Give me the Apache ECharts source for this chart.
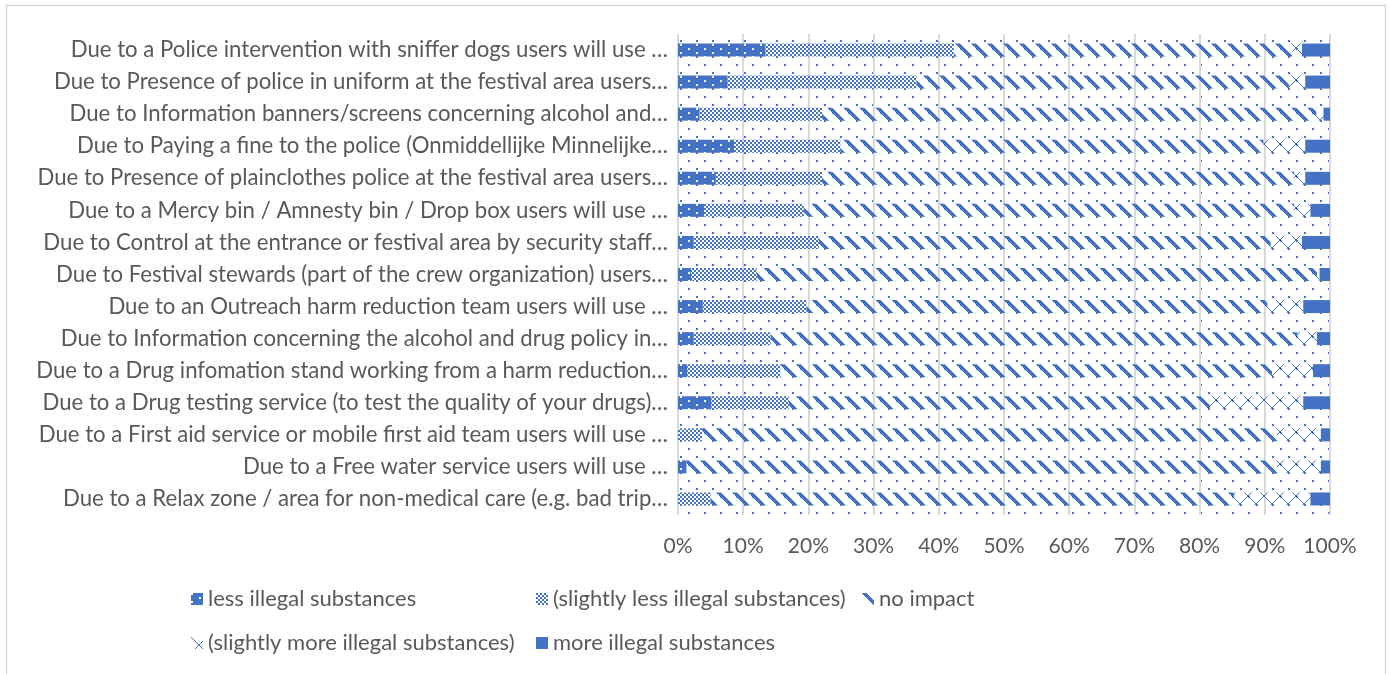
<!DOCTYPE html>
<html>
<head>
<meta charset="utf-8">
<script src="https://cdn.jsdelivr.net/npm/echarts@6/dist/echarts.min.js"></script>
<style>
  html, body { margin: 0; padding: 0; background: #ffffff; }
  #chart { width: 1390px; height: 674px; }
</style>
</head>
<body>
<div id="chart"></div>
<script>
// Survey items, listed top to bottom
const categories = [
  'Due to a Police intervention with sniffer dogs users will use …',
  'Due to Presence of police in uniform at the festival area users…',
  'Due to Information banners/screens concerning alcohol and…',
  'Due to Paying a fine to the police (Onmiddellijke Minnelijke…',
  'Due to Presence of plainclothes police at the festival area users…',
  'Due to a Mercy bin / Amnesty bin / Drop box users will use …',
  'Due to Control at the entrance or festival area by security staff…',
  'Due to Festival stewards (part of the crew organization) users…',
  'Due to an Outreach harm reduction team users will use …',
  'Due to Information concerning the alcohol and drug policy in…',
  'Due to a Drug infomation stand working from a harm reduction…',
  'Due to a Drug testing service (to test the quality of your drugs)…',
  'Due to a First aid service or mobile first aid team users will use …',
  'Due to a Free water service users will use …',
  'Due to a Relax zone / area for non-medical care (e.g. bad trip…'
];

// Share of answers (%) per item
const lessIllegal       = [13.4, 7.6, 3.3, 8.6, 5.8, 4.0, 2.4, 2.0, 3.8, 2.4, 1.4, 5.1, 0, 1.3, 0];
const slightlyLess      = [28.9, 29.0, 18.8, 16.3, 16.3, 15.3, 19.2, 10.1, 15.9, 11.8, 14.3, 11.9, 3.7, 0, 5.0];
const noImpact          = [51.9, 57.1, 75.8, 64.9, 72.4, 75.2, 69.3, 85.9, 70.7, 80.8, 75.4, 64.6, 88.2, 90.6, 80.3];
const slightlyMore      = [1.5, 2.5, 1.1, 6.4, 1.7, 2.5, 4.8, 0.4, 5.5, 3.0, 6.3, 14.3, 6.7, 6.7, 11.7];
const moreIllegal       = [4.3, 3.8, 1.0, 3.8, 3.8, 3.0, 4.3, 1.6, 4.1, 2.0, 2.6, 4.1, 1.4, 1.4, 3.0];

const seriesNames = [
  'less illegal substances',
  '(slightly less illegal substances)',
  'no impact',
  '(slightly more illegal substances)',
  'more illegal substances'
];

const BLUE = '#4472C4';
const TEXT = '#595959';
const FONT = 'Lato, "Open Sans", sans-serif';

// Small repeating canvas tiles used as fill patterns
function tile(w, h, paint) {
  const c = document.createElement('canvas');
  c.width = w; c.height = h;
  const ctx = c.getContext('2d');
  paint(ctx);
  return { image: c, repeat: 'repeat' };
}

const patLess = tile(16, 8, ctx => {
  ctx.fillStyle = BLUE; ctx.fillRect(0, 0, 16, 8);
  ctx.fillStyle = '#ffffff';
  ctx.fillRect(0, 0, 2, 2); ctx.fillRect(8, 4, 2, 2);
});
const patSlightlyLess = tile(4, 4, ctx => {
  ctx.fillStyle = BLUE;
  ctx.fillRect(0, 0, 2, 2); ctx.fillRect(2, 2, 2, 2);
});
const patNoImpact = tile(16, 16, ctx => {
  ctx.fillStyle = BLUE;
  for (let y = 0; y < 16; y++) {
    for (let k = 0; k < 5; k++) ctx.fillRect((y + k) % 16, y, 1, 1);
  }
});
const patSlightlyMore = tile(16, 16, ctx => {
  ctx.fillStyle = BLUE;
  for (let i = 0; i < 16; i++) { ctx.fillRect(i, i, 1, 1); ctx.fillRect(15 - i, i, 1, 1); }
});
const patPlot = tile(16, 16, ctx => {
  ctx.fillStyle = BLUE;
  ctx.fillRect(0, 0, 2, 2); ctx.fillRect(8, 8, 2, 2);
});

const fills = [patLess, patSlightlyLess, patNoImpact, patSlightlyMore, BLUE];
const values = [lessIllegal, slightlyLess, noImpact, slightlyMore, moreIllegal];

const chart = echarts.init(document.getElementById('chart'), null, { renderer: 'canvas' });

function legendAt(name, left, top) {
  return {
    data: [name], left: left, top: top, icon: 'rect',
    itemWidth: 12, itemHeight: 12,
    textStyle: { color: TEXT, fontSize: 22, fontFamily: FONT }
  };
}

chart.setOption({
  animation: false,
  backgroundColor: '#ffffff',
  graphic: [{
    type: 'rect', silent: true, z: -10,
    shape: { x: 6.5, y: 5.5, width: 1379, height: 700 },
    style: { fill: null, stroke: '#d9d9d9', lineWidth: 1.5 }
  }],
  grid: {
    left: 678, right: 60, top: 34, bottom: 159,
    show: true, backgroundColor: patPlot, borderWidth: 0
  },
  legend: [
    legendAt(seriesNames[0], 186, 583),
    legendAt(seriesNames[1], 531, 583),
    legendAt(seriesNames[2], 857, 583),
    legendAt(seriesNames[3], 186, 627),
    legendAt(seriesNames[4], 531, 627)
  ],
  xAxis: {
    type: 'value', min: 0, max: 100, interval: 10,
    axisLine: { show: false }, axisTick: { show: false },
    axisLabel: { formatter: '{value}%', color: TEXT, fontSize: 21, fontFamily: FONT, margin: 21 },
    splitLine: { show: true, lineStyle: { color: '#d9d9d9', width: 2 } }
  },
  yAxis: {
    type: 'category', data: categories, inverse: true,
    axisLine: { show: false }, axisTick: { show: false },
    axisLabel: { color: TEXT, fontSize: 22.2, fontFamily: FONT, margin: 10 }
  },
  series: seriesNames.map((name, i) => ({
    name: name, type: 'bar', stack: 'total', barWidth: 13,
    itemStyle: { color: fills[i] },
    emphasis: { disabled: true },
    data: values[i]
  }))
});
</script>
</body>
</html>
